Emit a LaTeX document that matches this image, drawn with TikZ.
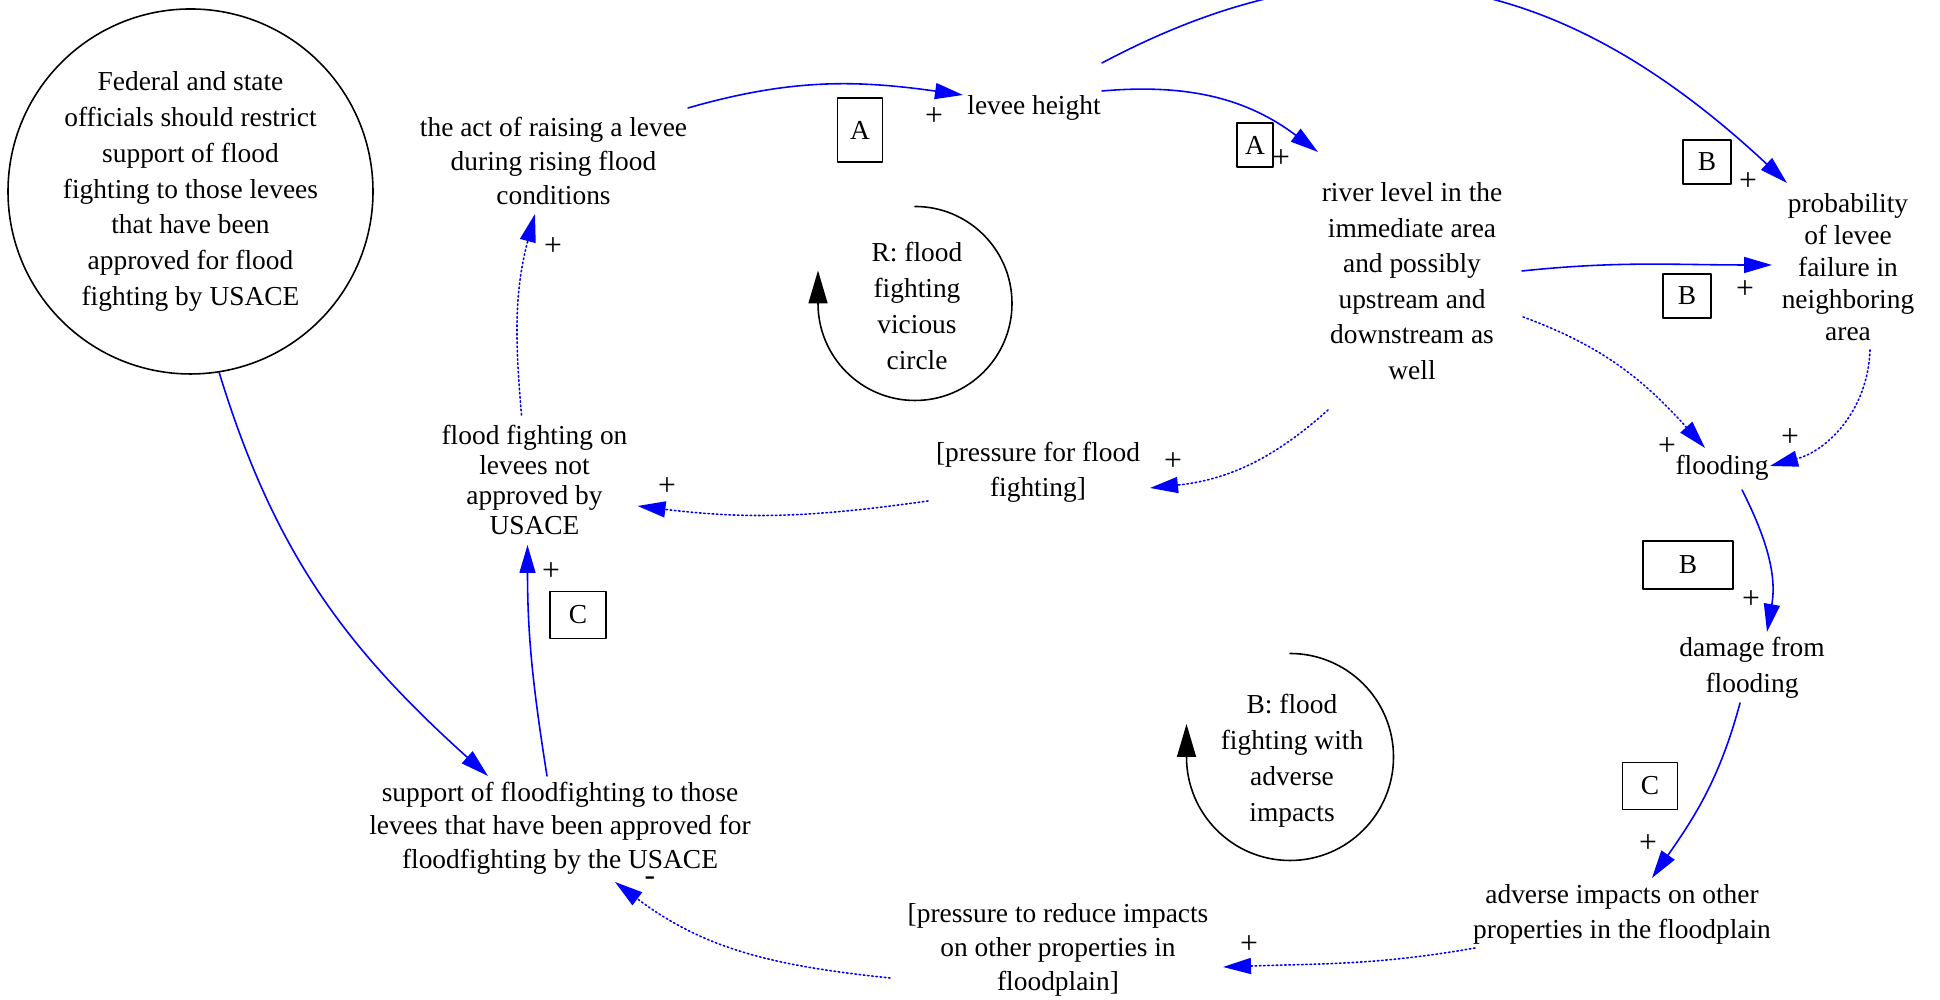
\documentclass[tikz,border=0pt]{standalone}
\usepackage{fontspec}
\setmainfont{Liberation Serif}
\usetikzlibrary{arrows.meta}

\begin{document}
\begin{tikzpicture}[line cap=round,line join=round,x=1cm,y=1cm,
        >={Triangle[length=2.8mm,width=1.6mm]},
        var/.style={align=center,inner sep=1pt,font=\fontsize{7.8}{10}\selectfont},
        lbox/.style={draw,line width=0.45pt,inner sep=0pt,font=\fontsize{7.8}{10}\selectfont},
        pol/.style={inner sep=0pt,font=\fontsize{9}{10}\selectfont},
        lnk/.style={->,blue,line width=0.45pt},
        dlnk/.style={lnk,dash pattern=on 0.45pt off 0.75pt},
        loopc/.style={line width=0.45pt,-{Triangle[length=3.3mm,width=1.9mm]}}]
                \useasboundingbox (0,0) rectangle (19.40,10.00);
                \clip (0,0) rectangle (19.40,10.00);
                \node [var,draw,circle,minimum size=3.65cm,line width=0.45pt,font=\fontsize{7.8}{10.2}\selectfont] (fed) at (1.905,8.085) {Federal and state\\officials should restrict\\support of flood\\fighting to those levees\\that have been\\approved for flood\\fighting by USACE};
                \node [var,font=\fontsize{7.8}{9.7}\selectfont] (act) at (5.535,8.39) {the act of raising a levee\\during rising flood\\conditions};
                \node [var] (lh) at (10.34,8.92) {levee height};
                \node [var,font=\fontsize{7.8}{10.1}\selectfont] (rl) at (14.12,7.19) {river level in the\\immediate area\\and possibly\\upstream and\\downstream as\\well};
                \node [var,font=\fontsize{7.8}{9.1}\selectfont] (prob) at (18.48,7.33) {probability\\of levee\\failure in\\neighboring\\area};
                \node [var] (fl) at (17.22,5.32) {flooding};
                \node [var,font=\fontsize{7.8}{10.4}\selectfont] (dmg) at (17.52,3.32) {damage from\\flooding};
                \node [var] (adv) at (16.22,0.86) {adverse impacts on other\\properties in the floodplain};
                \node [var,font=\fontsize{7.8}{9.7}\selectfont] (prd) at (10.58,0.50) {[pressure to reduce impacts\\on other properties in\\floodplain]};
                \node [var,font=\fontsize{7.8}{9.5}\selectfont] (sup) at (5.60,1.72) {support of floodfighting to those\\levees that have been approved for\\floodfighting by the USACE};
                \node [var,font=\fontsize{7.8}{8.5}\selectfont] (ffn) at (5.345,5.20) {flood fighting on\\levees not\\approved by\\USACE};
                \node [var] (pff) at (10.38,5.28) {[pressure for flood\\fighting]};
                \node [var,font=\fontsize{7.8}{10.2}\selectfont] (lR) at (9.17,6.94) {R: flood\\fighting\\vicious\\circle};
                \node [var,font=\fontsize{7.8}{10.2}\selectfont] (lB) at (12.92,2.39) {B: flood\\fighting with\\adverse\\impacts};
                \node [lbox,minimum width=0.45cm,minimum height=0.64cm] (bA1) at (8.60,8.70) {A};
                \node [lbox,minimum width=0.36cm,minimum height=0.44cm] (bA2) at (12.55,8.55) {A};
                \node [lbox,minimum width=0.48cm,minimum height=0.44cm] (bB1) at (17.07,8.38) {B};
                \node [lbox,minimum width=0.48cm,minimum height=0.44cm] (bB2) at (16.87,7.04) {B};
                \node [lbox,minimum width=0.90cm,minimum height=0.48cm] (bB3) at (16.88,4.35) {B};
                \node [lbox,minimum width=0.55cm,minimum height=0.47cm] (bC1) at (16.50,2.14) {C};
                \node [lbox,minimum width=0.56cm,minimum height=0.47cm] (bC2) at (5.78,3.85) {C};
                \node [pol] (s1) at (9.34,8.83) {+};
                \node [pol] (s2) at (12.81,8.41) {+};
                \node [pol] (s3) at (17.48,8.18) {+};
                \node [pol] (s4) at (17.45,7.10) {+};
                \node [pol] (s5) at (16.67,5.53) {+};
                \node [pol] (s6) at (17.90,5.62) {+};
                \node [pol] (s7) at (17.51,4.00) {+};
                \node [pol] (s8) at (16.48,1.56) {+};
                \node [pol] (s9) at (12.49,0.55) {+};
                \node [pol] (s10) at (6.50,1.19) {-};
                \node [pol] (s11) at (5.51,4.28) {+};
                \node [pol] (s12) at (6.67,5.13) {+};
                \node [pol] (s13) at (11.73,5.38) {+};
                \node [pol] (s14) at (5.53,7.53) {+};
                \draw [lnk] (fed.-81) to[out=-73,in=138] ([shift={(-0.72,0.52)}]sup.center);
                \draw [lnk] ([shift={(-0.13,0.52)}]sup.center) to[out=99,in=-90] ([shift={(-0.07,-0.65)}]ffn.center);
                \draw [dlnk] ([shift={(-0.13,0.65)}]ffn.center) to[out=95,in=-105] ([shift={(-0.185,-0.53)}]act.center);
                \draw [lnk] ([shift={(1.345,0.53)}]act.center) to[out=16,in=172] ([shift={(-0.71,0.13)}]lh.center);
                \draw [lnk] ([shift={(0.68,0.17)}]lh.center) to[out=5,in=143] ([shift={(-0.94,1.29)}]rl.center);
                \draw [lnk] ([shift={(0.68,0.45)}]lh.center) to[out=28,in=137,looseness=1.1] ([shift={(-0.61,0.84)}]prob.center);
                \draw [lnk] ([shift={(1.10,0.10)}]rl.center) to[out=6,in=180] ([shift={(-0.76,0.02)}]prob.center);
                \draw [dlnk] ([shift={(1.11,-0.36)}]rl.center) to[out=-20,in=132] ([shift={(-0.17,0.20)}]fl.center);
                \draw [dlnk] ([shift={(0.22,-0.83)}]prob.center) to[out=-92,in=15] ([shift={(0.48,0.02)}]fl.center);
                \draw [lnk] ([shift={(0.20,-0.22)}]fl.center) to[out=-63,in=80] ([shift={(0.15,0.36)}]dmg.center);
                \draw [lnk] ([shift={(-0.12,-0.35)}]dmg.center) to[out=-105,in=55] ([shift={(0.30,0.36)}]adv.center);
                \draw [dlnk] ([shift={(-1.47,-0.34)}]adv.center) to[out=190,in=2] ([shift={(1.65,-0.17)}]prd.center);
                \draw [dlnk] ([shift={(-1.68,-0.28)}]prd.center) to[out=174,in=-37] ([shift={(0.55,-0.54)}]sup.center);
                \draw [dlnk] ([shift={(-0.84,-1.29)}]rl.center) to[out=-138,in=6] ([shift={(1.12,-0.16)}]pff.center);
                \draw [dlnk] ([shift={(-1.10,-0.29)}]pff.center) to[out=188,in=-7] ([shift={(1.03,-0.26)}]ffn.center);
                \draw [loopc] ([shift={(-0.02,0.995)}]lR.center) arc[start angle=90,end angle=-180,radius=0.97] -- ++(0,0.33);
                \draw [loopc] ([shift={(-0.02,1.075)}]lB.center) arc[start angle=90,end angle=-180,radius=1.035] -- ++(0,0.33);
\end{tikzpicture}
\end{document}
